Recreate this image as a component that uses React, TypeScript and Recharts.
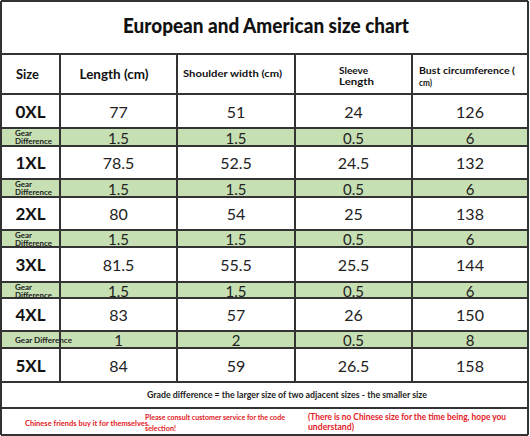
import { ComposedChart, XAxis, YAxis, Scatter, ReferenceArea, ReferenceLine } from "recharts";

const W = 530;
const H = 436;

// table content
const TITLE = "European and American size chart";
const HEADERS = [["Size"], ["Length (cm)"], ["Shoulder width (cm)"], ["Sleeve", "Length"], ["Bust circumference (", "cm)"]];
const SIZES = ["0XL", "1XL", "2XL", "3XL", "4XL", "5XL"];
const LENGTH = [77, 78.5, 80, 81.5, 83, 84];
const SHOULDER = [51, 52.5, 54, 55.5, 57, 59];
const SLEEVE = [24, 24.5, 25, 25.5, 26, 26.5];
const BUST = [126, 132, 138, 144, 150, 158];
const GEAR_LENGTH = [1.5, 1.5, 1.5, 1.5, 1];
const GEAR_SHOULDER = [1.5, 1.5, 1.5, 1.5, 2];
const GEAR_SLEEVE = [0.5, 0.5, 0.5, 0.5, 0.5];
const GEAR_BUST = [6, 6, 6, 6, 8];
const GEAR_LABEL = "Gear Difference";
const NOTE = "Grade difference = the larger size of two adjacent sizes - the smaller size";
const FOOT_LEFT = "Chinese friends buy it for themselves.";
const FOOT_MID = ["Please consult customer service for the code", "selection!"];
const FOOT_RIGHT = ["(There is no Chinese size for the time being, hope you", "understand)"];

// grid layout (pixels)
const COL_X = [1, 60, 177, 295, 412, 528];
const ROW_Y = [1, 54, 94, 128, 146, 179, 197, 230, 247, 282, 298, 331, 348, 382, 408, 435];

const LINE = "#333";
const GREEN = "#c6e0b4";
const RED = "#e3201e";

const STYLES: Record<string, any> = {
  title: { fontSize: 20, fontWeight: 900, fill: "#111" },
  head: { fontSize: 14, fontWeight: 700, fill: "#111" },
  headSmall: { fontSize: 10, fontWeight: 700, fill: "#111" },
  size: { fontSize: 17, fontWeight: 700, fill: "#111" },
  value: { fontSize: 16, fontWeight: 400, fill: "#222" },
  gear: { fontSize: 15, fontWeight: 400, fill: "#222" },
  gearLabel: { fontSize: 8, fontWeight: 700, fill: "#222" },
  note: { fontSize: 10, fontWeight: 700, fill: "#222" },
  red: { fontSize: 8, fontWeight: 700, fill: RED },
};

type Cell = { x: number; y: number; text: string; kind: string; anchor?: string; len?: number; size?: number };

const mid = (i: number) => (COL_X[i] + COL_X[i + 1]) / 2;
const rowMid = (r: number) => (ROW_Y[r] + ROW_Y[r + 1]) / 2;

const COLUMNS = [LENGTH, SHOULDER, SLEEVE, BUST];
const GEARS = [GEAR_LENGTH, GEAR_SHOULDER, GEAR_SLEEVE, GEAR_BUST];

const cells: Cell[] = [];
cells.push({ x: 266, y: 25, text: TITLE, kind: "title", len: 286 });
cells.push({ x: 27.5, y: 73, text: HEADERS[0][0], kind: "head", len: 23 });
cells.push({ x: 114, y: 73, text: HEADERS[1][0], kind: "head", len: 69 });
cells.push({ x: 183, y: 73, text: HEADERS[2][0], kind: "headSmall", anchor: "start", len: 99 });
cells.push({ x: 339, y: 70, text: HEADERS[3][0], kind: "headSmall", anchor: "start", len: 29 });
cells.push({ x: 339, y: 81, text: HEADERS[3][1], kind: "headSmall", anchor: "start", len: 35 });
cells.push({ x: 419, y: 70, text: HEADERS[4][0], kind: "headSmall", anchor: "start", len: 96 });
cells.push({ x: 419, y: 82, text: HEADERS[4][1], kind: "headSmall", anchor: "start", len: 13 });

SIZES.forEach((s, i) => {
  const r = 2 + i * 2;
  cells.push({ x: mid(0), y: rowMid(r), text: s, kind: "size" });
  COLUMNS.forEach((col, c) => {
    cells.push({ x: mid(c + 1), y: rowMid(r), text: String(col[i]), kind: "value" });
  });
  if (i < GEAR_LENGTH.length) {
    const g = r + 1;
    if (i < GEAR_LENGTH.length - 1) {
      const [a, b] = GEAR_LABEL.split(" ");
      cells.push({ x: 15, y: ROW_Y[g] + 4.5, text: a, kind: "gearLabel", anchor: "start" });
      cells.push({ x: 15, y: ROW_Y[g] + 13, text: b, kind: "gearLabel", anchor: "start", len: 37 });
    } else {
      cells.push({ x: 15, y: rowMid(g), text: GEAR_LABEL, kind: "gearLabel", anchor: "start", len: 57 });
    }
    GEARS.forEach((col, c) => {
      cells.push({ x: mid(c + 1), y: rowMid(g) + 0.5, text: String(col[i]), kind: "gear" });
    });
  }
});

cells.push({ x: 147, y: 394, text: NOTE, kind: "note", anchor: "start", len: 280 });
cells.push({ x: 25, y: 423, text: FOOT_LEFT, kind: "red", anchor: "start", size: 7.5 });
cells.push({ x: 145, y: 417, text: FOOT_MID[0], kind: "red", anchor: "start", len: 140 });
cells.push({ x: 145, y: 427.5, text: FOOT_MID[1], kind: "red", anchor: "start", len: 31 });
cells.push({ x: 308, y: 416.5, text: FOOT_RIGHT[0], kind: "red", anchor: "start", len: 198, size: 9 });
cells.push({ x: 308, y: 426.5, text: FOOT_RIGHT[1], kind: "red", anchor: "start", len: 46, size: 9 });

const renderCell = (props: any) => {
  const { cx, cy, payload } = props;
  const st = STYLES[payload.kind];
  return (
    <text
      x={cx}
      y={cy}
      textAnchor={payload.anchor ?? "middle"}
      dominantBaseline="central"
      fontFamily="Lato, 'Open Sans', sans-serif"
      fontSize={payload.size ?? st.fontSize}
      fontWeight={st.fontWeight}
      fill={st.fill}
      textLength={payload.len}
      lengthAdjust={payload.len ? "spacingAndGlyphs" : undefined}
    >
      {payload.text}
    </text>
  );
};

export default function App() {
  const gearRows = GEAR_LENGTH.map((_, i) => 3 + i * 2);
  const bodyTop = ROW_Y[1];
  const bodyBottom = ROW_Y[13];
  return (
    <div style={{ position: "absolute", left: 0, top: 0, width: W, height: H, background: "#fff" }}>
      <ComposedChart width={W} height={H} margin={{ top: 0, right: 0, bottom: 0, left: 0 }} data={cells}>
        <XAxis type="number" dataKey="x" domain={[0, W]} allowDataOverflow hide />
        <YAxis type="number" dataKey="y" domain={[0, H]} allowDataOverflow reversed hide />
        {gearRows.map((r) => (
          <ReferenceArea
            key={r}
            x1={COL_X[0]}
            x2={COL_X[5]}
            y1={ROW_Y[r]}
            y2={ROW_Y[r + 1]}
            fill={GREEN}
            fillOpacity={1}
            stroke="none"
          />
        ))}
        {ROW_Y.map((y) => (
          <ReferenceLine
            key={"h" + y}
            segment={[{ x: COL_X[0], y }, { x: COL_X[5], y }]}
            stroke={LINE}
            strokeWidth={2}
          />
        ))}
        {[COL_X[0], COL_X[5]].map((x) => (
          <ReferenceLine
            key={"o" + x}
            segment={[{ x, y: ROW_Y[0] }, { x, y: ROW_Y[ROW_Y.length - 1] }]}
            stroke={LINE}
            strokeWidth={2}
          />
        ))}
        {COL_X.slice(1, 5).map((x) => (
          <ReferenceLine
            key={"v" + x}
            segment={[{ x, y: bodyTop }, { x, y: bodyBottom }]}
            stroke={LINE}
            strokeWidth={2}
          />
        ))}
        <Scatter data={cells} dataKey="y" shape={renderCell} isAnimationActive={false} />
      </ComposedChart>
    </div>
  );
}
